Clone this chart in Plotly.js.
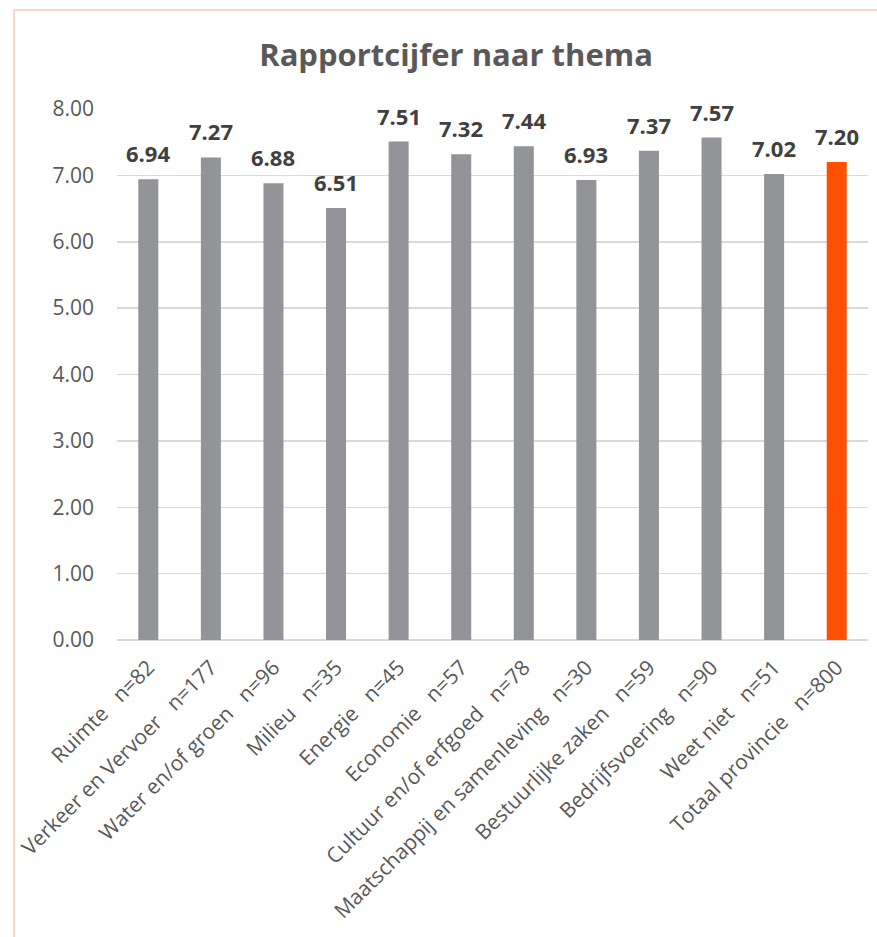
<!DOCTYPE html>
<html>
<head>
<meta charset="utf-8">
<script src="https://cdn.plot.ly/plotly-3.0.1.min.js"></script>
<style>
  html, body { margin: 0; padding: 0; background: #ffffff; }
  #wrap { position: relative; width: 877px; height: 937px; overflow: hidden; }
  #chart { position: absolute; left: 0; top: 0; width: 877px; height: 937px; }
  #frame { position: absolute; left: 13px; top: 9px; width: 870px; height: 940px;
           border-left: 2px solid #fdd8c7; border-top: 2px solid #fdd8c7; pointer-events: none; }
</style>
</head>
<body>
<div id="wrap">
  <div id="chart"></div>
  <div id="frame"></div>
</div>
<script>
const categories = [
  "Ruimte   n=82",
  "Verkeer en Vervoer   n=177",
  "Water en/of groen   n=96",
  "Milieu   n=35",
  "Energie   n=45",
  "Economie   n=57",
  "Cultuur en/of erfgoed   n=78",
  "Maatschappij en samenleving   n=30",
  "Bestuurlijke zaken   n=59",
  "Bedrijfsvoering   n=90",
  "Weet niet   n=51",
  "Totaal provincie   n=800"
];
const values = [6.94, 7.27, 6.88, 6.51, 7.51, 7.32, 7.44, 6.93, 7.37, 7.57, 7.02, 7.20];
const barColors = ["#939498","#939498","#939498","#939498","#939498","#939498",
                   "#939498","#939498","#939498","#939498","#939498","#FF5000"];
const yTicks = [0, 1, 2, 3, 4, 5, 6, 7, 8];

const labels = categories.map(c => c.replace(/ /g, "\u00A0"));

const bars = {
  type: "bar",
  x: labels,
  y: values,
  marker: { color: barColors },
  hoverinfo: "skip",
  showlegend: false
};

const valueAnnotations = labels.map((lab, i) => ({
  x: lab,
  y: values[i],
  xref: "x",
  yref: "y",
  text: "<b>" + values[i].toFixed(2) + "</b>",
  showarrow: false,
  yanchor: "bottom",
  yshift: 9,
  font: { family: "Open Sans, sans-serif", size: 22, color: "#404040" }
}));

const layout = {
  width: 877,
  height: 937,
  paper_bgcolor: "rgba(0,0,0,0)",
  plot_bgcolor: "rgba(0,0,0,0)",
  margin: { l: 117, r: 9, t: 109, b: 297 },
  bargap: 0.68,
  title: {
    text: "<b>Rapportcijfer naar thema</b>",
    font: { family: "Open Sans, sans-serif", size: 31, color: "#595959" },
    x: 0.52, xanchor: "center",
    y: 1 - 55/937, yanchor: "middle", yref: "container"
  },
  annotations: valueAnnotations,
  xaxis: {
    type: "category",
    tickangle: -45,
    tickfont: { family: "Open Sans, sans-serif", size: 21, color: "#595959" },
    showgrid: false,
    showline: false,
    zeroline: false,
    ticks: "",
    ticklabelstandoff: 10,
    automargin: false
  },
  yaxis: {
    range: [0, 8],
    tickvals: yTicks,
    ticktext: yTicks.map(v => v.toFixed(2)),
    tickfont: { family: "Open Sans, sans-serif", size: 21, color: "#595959" },
    showgrid: true,
    gridcolor: "#d9d9d9",
    gridwidth: 1.5,
    zeroline: true,
    zerolinecolor: "#d9d9d9",
    zerolinewidth: 2.5,
    showline: false,
    ticks: "",
    ticklabelstandoff: 22,
    automargin: false
  }
};

Plotly.newPlot("chart", [bars], layout, { staticPlot: true, displayModeBar: false });
</script>
</body>
</html>
